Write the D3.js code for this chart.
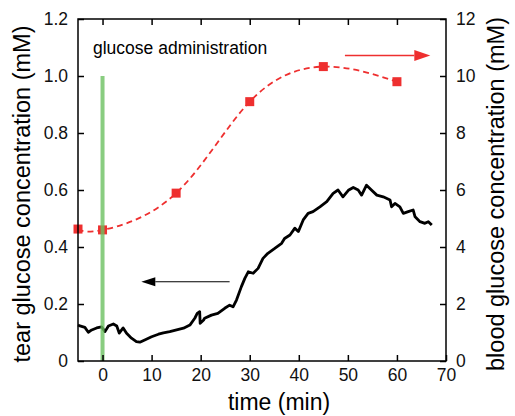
<!DOCTYPE html>
<html>
<head>
<meta charset="utf-8">
<script src="https://cdn.jsdelivr.net/npm/d3@7"></script>
<style>
  body { margin: 0; background: #fff; }
  svg { display: block; font-family: "Liberation Sans", Arial, sans-serif; }
</style>
</head>
<body>
<svg id="canvas"></svg>
<script>
// tear glucose trace (time in min, concentration in mM)
let tearTime = [-5, -4.6, -3.6, -2.9, -2.2, -1.2, -0.2, 0.5, 1.2, 2.2, 2.9, 3.4, 4.2, 4.9, 5.9, 6.9, 7.6, 8.6, 10.0, 11.4, 12.4, 13.7, 15.1, 16.5, 17.8, 18.8, 19.3, 19.8, 19.9, 20.6, 20.8, 22.2, 23.5, 24.9, 25.9, 26.6, 27.3, 28.3, 29.0, 29.7, 30.7, 31.7, 32.7, 33.7, 35.1, 36.5, 37.1, 38.2, 39.2, 39.9, 40.9, 41.9, 42.9, 44.3, 45.7, 47.0, 48.0, 49.0, 50.1, 51.1, 52.1, 52.8, 53.8, 54.8, 55.9, 57.2, 58.6, 58.9, 59.6, 60.6, 61.3, 62.3, 63.3, 63.7, 64.7, 65.7, 66.4, 67.1];
let tearValue = [0.126, 0.123, 0.118, 0.101, 0.109, 0.116, 0.120, 0.103, 0.123, 0.130, 0.123, 0.098, 0.116, 0.097, 0.080, 0.068, 0.066, 0.074, 0.085, 0.094, 0.099, 0.103, 0.109, 0.115, 0.126, 0.150, 0.167, 0.173, 0.132, 0.144, 0.150, 0.161, 0.167, 0.185, 0.196, 0.190, 0.214, 0.261, 0.290, 0.313, 0.308, 0.325, 0.360, 0.378, 0.395, 0.413, 0.430, 0.442, 0.466, 0.454, 0.495, 0.518, 0.524, 0.541, 0.559, 0.588, 0.600, 0.576, 0.599, 0.609, 0.600, 0.582, 0.617, 0.600, 0.582, 0.576, 0.565, 0.541, 0.553, 0.541, 0.518, 0.524, 0.530, 0.506, 0.489, 0.483, 0.489, 0.477];

// blood glucose samples
let bloodTime = [-5, 0, 15, 30, 45, 60];
let bloodValue = [4.63, 4.6, 5.89, 9.1, 10.33, 9.8];

let xTicks = [0, 10, 20, 30, 40, 50, 60, 70];
let leftTicks = [0, 0.2, 0.4, 0.6, 0.8, 1.0, 1.2];
let rightTicks = [0, 2, 4, 6, 8, 10, 12];

let width = 515;
let height = 416;
let plotLeft = 78, plotRight = 446, plotTop = 19, plotBottom = 361;

let canvas = d3.select("#canvas");
canvas.attr("width", width)
canvas.attr("height", height)

let xScale = d3.scaleLinear().domain([-5, 70]).range([plotLeft, plotRight])
let yLeft = d3.scaleLinear().domain([0, 1.2]).range([plotBottom, plotTop])
let yRight = d3.scaleLinear().domain([0, 12]).range([plotBottom, plotTop])

let red = "#ee2f2f";

let tearData = tearTime.map((t, i) => ({t: t, v: tearValue[i]}))
let bloodData = bloodTime.map((t, i) => ({t: t, v: bloodValue[i]}))

// blood glucose dashed fit + markers
let bloodLine = d3.line()
                  .x(d => xScale(d.t))
                  .y(d => yRight(d.v))
                  .curve(d3.curveNatural)

canvas.append("path")
      .datum(bloodData)
      .attr("d", bloodLine)
      .attr("fill", "none")
      .attr("stroke", red)
      .attr("stroke-width", 1.8)
      .attr("stroke-dasharray", "6,4")

canvas.selectAll("rect.blood")
      .data(bloodData)
      .enter()
      .append("rect")
      .attr("class", "blood")
      .attr("x", d => xScale(d.t) - 4.5)
      .attr("y", d => yRight(d.v) - 4.5)
      .attr("width", 9)
      .attr("height", 9)
      .attr("fill", red)

// tear glucose trace
let tearLine = d3.line()
                 .x(d => xScale(d.t))
                 .y(d => yLeft(d.v))

canvas.append("path")
      .datum(tearData)
      .attr("d", tearLine)
      .attr("fill", "none")
      .attr("stroke", "#000")
      .attr("stroke-width", 2.8)
      .attr("stroke-linejoin", "round")

// glucose administration marker
canvas.append("line")
      .attr("x1", xScale(0))
      .attr("x2", xScale(0))
      .attr("y1", yLeft(0))
      .attr("y2", yLeft(1.0))
      .attr("stroke", "#6cc060")
      .attr("stroke-opacity", 0.8)
      .attr("stroke-width", 4)

canvas.append("text")
      .attr("x", 93)
      .attr("y", 54)
      .attr("font-size", 17.5)
      .text("glucose administration")

// arrows
let drawArrow = (x1, x2, y, color, w, headLen, headHalf) => {
    let dir = x2 > x1 ? 1 : -1
    canvas.append("line")
          .attr("x1", x1)
          .attr("x2", x2 - dir * headLen)
          .attr("y1", y)
          .attr("y2", y)
          .attr("stroke", color)
          .attr("stroke-width", w)
    canvas.append("path")
          .attr("d", `M${x2},${y}L${x2 - dir * headLen},${y - headHalf}L${x2 - dir * headLen},${y + headHalf}Z`)
          .attr("fill", color)
}
drawArrow(xScale(49.4), xScale(66.8), yRight(10.72), red, 1.6, 16, 5.5)
drawArrow(xScale(25.9), xScale(7.9), yLeft(0.278), "#000", 1.2, 14, 4.5)

// axes, ticks pointing inward
canvas.append("rect")
      .attr("x", plotLeft)
      .attr("y", plotTop)
      .attr("width", plotRight - plotLeft)
      .attr("height", plotBottom - plotTop)
      .attr("fill", "none")
      .attr("stroke", "#000")
      .attr("stroke-width", 1.5)

let xAxis = d3.axisBottom(xScale).tickValues(xTicks).tickSize(-6).tickPadding(8).tickFormat(d3.format("d"))
let xTop = d3.axisTop(xScale).tickValues(xTicks.slice(0, 7)).tickSize(-6).tickFormat("")
let yAxisL = d3.axisLeft(yLeft).tickValues(leftTicks).tickSize(-6).tickPadding(10)
                .tickFormat(d => d === 0 ? "0" : d3.format(".1f")(d))
let yAxisR = d3.axisRight(yRight).tickValues(rightTicks).tickSize(-6).tickPadding(10)

let styleAxis = g => {
    g.select(".domain").remove()
    g.selectAll("line").attr("stroke-width", 1.5)
    g.selectAll("text").attr("font-size", 17.5).attr("fill", "#111")
        .attr("font-family", "'Liberation Sans', Arial, sans-serif")
}

canvas.append("g").attr("transform", `translate(0,${plotBottom})`).call(xAxis).call(styleAxis)
canvas.append("g").attr("transform", `translate(0,${plotTop})`).call(xTop).call(styleAxis)
canvas.append("g").attr("transform", `translate(${plotLeft},0)`).call(yAxisL).call(styleAxis)
canvas.append("g").attr("transform", `translate(${plotRight},0)`).call(yAxisR).call(styleAxis)

// axis titles
canvas.append("text")
      .attr("transform", `translate(30,194) rotate(-90)`)
      .attr("text-anchor", "middle")
      .attr("font-size", 23.5)
      .text("tear glucose concentration (mM)")

canvas.append("text")
      .attr("transform", `translate(504,194) rotate(-90)`)
      .attr("text-anchor", "middle")
      .attr("font-size", 23.5)
      .text("blood glucose concentration (mM)")

canvas.append("text")
      .attr("x", 279)
      .attr("y", 410)
      .attr("text-anchor", "middle")
      .attr("font-size", 23)
      .text("time (min)")
</script>
</body>
</html>
